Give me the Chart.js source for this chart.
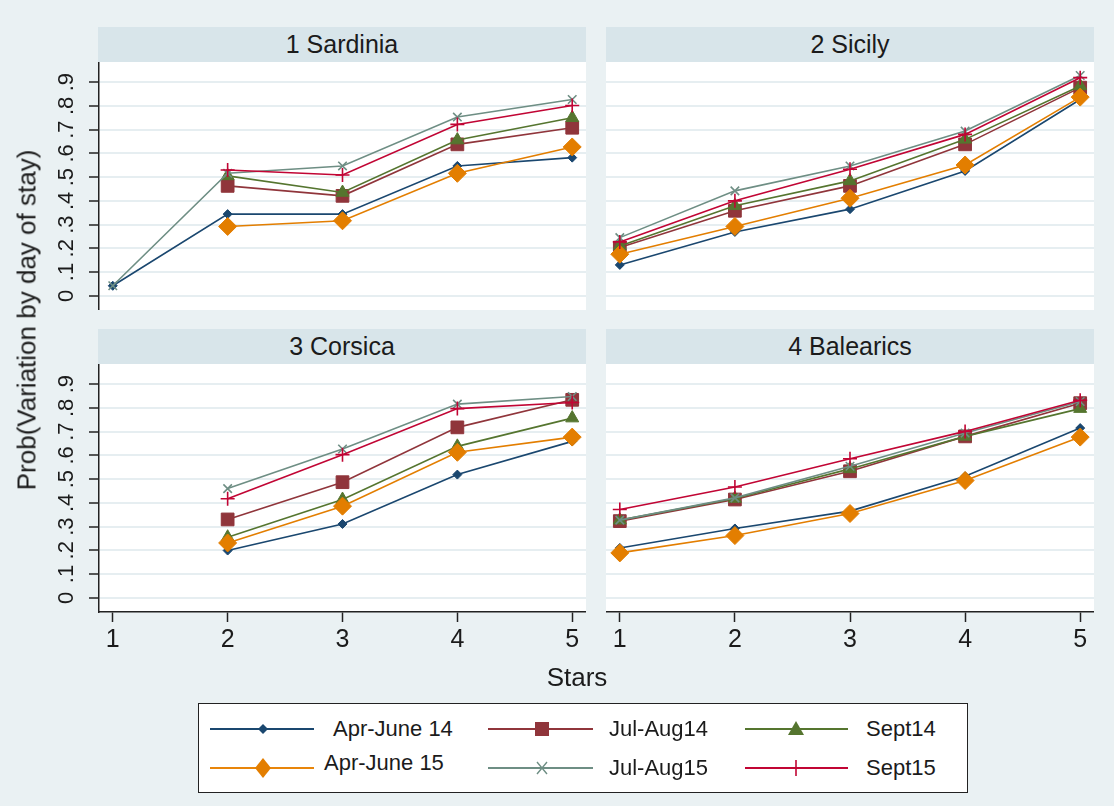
<!DOCTYPE html>
<html>
<head>
<meta charset="utf-8">
<script src="https://cdn.jsdelivr.net/npm/chart.js@4.4.0/dist/chart.umd.min.js"></script>
<style>
  body { margin: 0; background: #eaf1f3; font-family: "Liberation Sans", Arial, sans-serif; color: #1b1b1b; }
  #wrap { position: relative; width: 1114px; height: 806px; overflow: hidden; }
  .strip { position: absolute; height: 35px; line-height: 35px; background: #d8e5ea; text-align: center; font-size: 25px; }
  .pane { position: absolute; }
  .pane canvas { display: block; }
  .plotbg { position: absolute; background: #fff; }
  #ytitle { position: absolute; left: 27px; top: 320px; font-size: 26px; white-space: nowrap; transform: translate(-50%, -50%) rotate(-90deg); }
  #xtitle { position: absolute; left: 577px; top: 677px; font-size: 26px; transform: translate(-50%, -50%); }
  #legend { position: absolute; left: 198px; top: 703px; width: 768px; height: 88px; border: 1.5px solid #222; background: #fff; }
  #legend svg { position: absolute; left: 0; top: 0; }
  #legend span { position: absolute; font-size: 22px; transform: translateY(-50%); white-space: nowrap; }
</style>
</head>
<body>
<div id="wrap">
  <div class="strip" style="left:98px;top:27px;width:488px;">1 Sardinia</div>
  <div class="strip" style="left:606px;top:27px;width:488px;">2 Sicily</div>
  <div class="strip" style="left:98px;top:329px;width:488px;">3 Corsica</div>
  <div class="strip" style="left:606px;top:329px;width:488px;">4 Balearics</div>

  <div class="plotbg" style="left:99px;top:62px;width:487px;height:248px;"></div>
  <div class="plotbg" style="left:606px;top:62px;width:488px;height:248px;"></div>
  <div class="plotbg" style="left:99px;top:364px;width:487px;height:248px;"></div>
  <div class="plotbg" style="left:606px;top:364px;width:488px;height:248px;"></div>

  <div class="pane" style="left:30px;top:62px;"><canvas id="c1" width="556" height="248"></canvas></div>
  <div class="pane" style="left:606px;top:62px;"><canvas id="c2" width="488" height="248"></canvas></div>
  <div class="pane" style="left:30px;top:364px;"><canvas id="c3" width="556" height="300"></canvas></div>
  <div class="pane" style="left:606px;top:364px;"><canvas id="c4" width="488" height="300"></canvas></div>

  <div id="ytitle">Prob(Variation by day of stay)</div>
  <div id="xtitle">Stars</div>

  <div id="legend">
    <svg width="768" height="88">
      <g stroke-width="2">
        <line x1="11" y1="25" x2="115" y2="25" stroke="#1a476f"/>
        <path d="M64 20 L69 25 L64 30 L59 25 Z" fill="#1a476f" stroke="none"/>
        <line x1="289" y1="25" x2="394" y2="25" stroke="#90353b"/>
        <rect x="336" y="18" width="14" height="14" fill="#90353b"/>
        <line x1="546" y1="25" x2="649" y2="25" stroke="#55752f"/>
        <path d="M597 17 L605 31 L589 31 Z" fill="#55752f"/>
        <line x1="11" y1="64" x2="115" y2="64" stroke="#e8850a"/>
        <path d="M64 54 L72 64 L64 74 L56 64 Z" fill="#e37e00"/>
        <line x1="289" y1="64" x2="394" y2="64" stroke="#6e8e84"/>
        <path d="M338 58 L348 70 M348 58 L338 70" stroke="#6e8e84" stroke-width="1.4" fill="none"/>
        <line x1="546" y1="64" x2="649" y2="64" stroke="#c10534"/>
        <path d="M597 56 L597 72" stroke="#c10534" stroke-width="1.6"/>
      </g>
    </svg>
    <span style="left:134px;top:25px;">Apr-June 14</span>
    <span style="left:410px;top:25px;">Jul-Aug14</span>
    <span style="left:667px;top:25px;">Sept14</span>
    <span style="left:125px;top:59px;">Apr-June 15</span>
    <span style="left:410px;top:64px;">Jul-Aug15</span>
    <span style="left:667px;top:64px;">Sept15</span>
  </div>
</div>

<script>
// x categories (stars) and y ticks
var STARS = [1, 2, 3, 4, 5];
var Y_TICKS = [0, 0.1, 0.2, 0.3, 0.4, 0.5, 0.6, 0.7, 0.8, 0.9];
var Y_LABELS = ['0', '.1', '.2', '.3', '.4', '.5', '.6', '.7', '.8', '.9'];

var PERIODS = ['Apr-June 14', 'Jul-Aug14', 'Sept14', 'Apr-June 15', 'Jul-Aug15', 'Sept15'];

// one row per period (same order as PERIODS), one value per star level
var SARDINIA = [
  [0.042, 0.344, 0.344, 0.547, 0.582],
  [null, 0.463, 0.421, 0.638, 0.708],
  [null, 0.505, 0.435, 0.656, 0.750],
  [null, 0.292, 0.316, 0.516, 0.627],
  [0.042, 0.516, 0.547, 0.753, 0.827],
  [null, 0.530, 0.509, 0.722, 0.802]
];
var SICILY = [
  [0.130, 0.269, 0.365, 0.526, 0.827],
  [0.203, 0.358, 0.463, 0.638, 0.877],
  [0.210, 0.379, 0.484, 0.659, 0.884],
  [0.175, 0.292, 0.411, 0.551, 0.837],
  [0.245, 0.442, 0.547, 0.694, 0.928],
  [0.227, 0.400, 0.533, 0.680, 0.919]
];
var CORSICA = [
  [null, 0.199, 0.311, 0.519, 0.659],
  [null, 0.330, 0.487, 0.718, 0.834],
  [null, 0.255, 0.414, 0.638, 0.757],
  [null, 0.231, 0.386, 0.613, 0.677],
  [null, 0.460, 0.627, 0.816, 0.848],
  [null, 0.417, 0.603, 0.797, 0.823]
];
var BALEARICS = [
  [0.210, 0.292, 0.365, 0.512, 0.715],
  [0.323, 0.414, 0.533, 0.680, 0.820],
  [0.327, 0.418, 0.543, 0.680, 0.797],
  [0.189, 0.262, 0.355, 0.494, 0.677],
  [0.327, 0.421, 0.554, 0.694, 0.827],
  [0.372, 0.467, 0.586, 0.701, 0.832]
];

var COLORS = ['#1a476f', '#90353b', '#55752f', '#e37e00', '#6e8e84', '#c10534'];
var STYLES = ['rectRot', 'rect', 'triangle', 'rectRot', 'crossRot', 'cross'];
var RADII  = [4.5, 9, 7.5, 9, 6, 7];
var GRID = '#e6eef1';
var INK = '#1b1b1b';

Chart.defaults.font.family = '"Liberation Sans", Arial, sans-serif';
Chart.defaults.color = INK;

function noPad(s) {
  s.paddingTop = 0; s.paddingBottom = 0; s.paddingLeft = 0; s.paddingRight = 0;
}

function makeChart(id, rows, showY, showX) {
  var datasets = rows.map(function(vals, i) {
    return {
      label: PERIODS[i],
      data: STARS.map(function(s, j) { return {x: s, y: vals[j]}; }),
      borderColor: COLORS[i],
      backgroundColor: COLORS[i],
      pointBackgroundColor: COLORS[i],
      pointBorderColor: COLORS[i],
      pointStyle: STYLES[i],
      pointRadius: RADII[i],
      pointBorderWidth: (i >= 4) ? 1.6 : 1,
      borderWidth: 1.6,
      order: 6 - i,
      clip: false,
      tension: 0
    };
  });

  var ctx = document.getElementById(id).getContext('2d');
  return new Chart(ctx, {
    type: 'line',
    data: { datasets: datasets },
    options: {
      responsive: false,
      animation: false,
      devicePixelRatio: 1,
      layout: { padding: 0, autoPadding: false },
      plugins: { legend: { display: false }, tooltip: { enabled: false } },
      scales: {
        x: {
          type: 'linear',
          min: 0.88, max: 5.12,
          display: showX,
          afterBuildTicks: function(s) { s.ticks = STARS.map(function(v) { return {value: v}; }); },
          afterFit: function(s) { noPad(s); if (showX) s.height = 52; },
          ticks: { font: { size: 25 }, padding: 3, maxRotation: 0, color: INK,
                   callback: function(v) { return String(v); } },
          grid: { display: true, drawOnChartArea: false, tickColor: '#222', tickWidth: 1.5, tickLength: 10 },
          border: { display: true, color: '#222', width: 1.5 }
        },
        y: {
          min: -0.06, max: 0.985,
          afterBuildTicks: function(s) { s.ticks = Y_TICKS.map(function(v) { return {value: v}; }); },
          afterFit: function(s) { noPad(s); s.width = showY ? 69 : 0; },
          ticks: { display: showY, minRotation: 90, maxRotation: 90, crossAlign: 'center', padding: 13,
                   font: { size: 22 }, color: INK,
                   callback: function(v, i) { return Y_LABELS[i]; } },
          grid: { color: GRID, lineWidth: 2, drawTicks: showY, tickColor: '#222', tickWidth: 1.5, tickLength: 10 },
          border: { display: showY, color: '#222', width: 1.5 }
        }
      }
    }
  });
}

makeChart('c1', SARDINIA, true, false);
makeChart('c2', SICILY, false, false);
makeChart('c3', CORSICA, true, true);
makeChart('c4', BALEARICS, false, true);
</script>
</body>
</html>
